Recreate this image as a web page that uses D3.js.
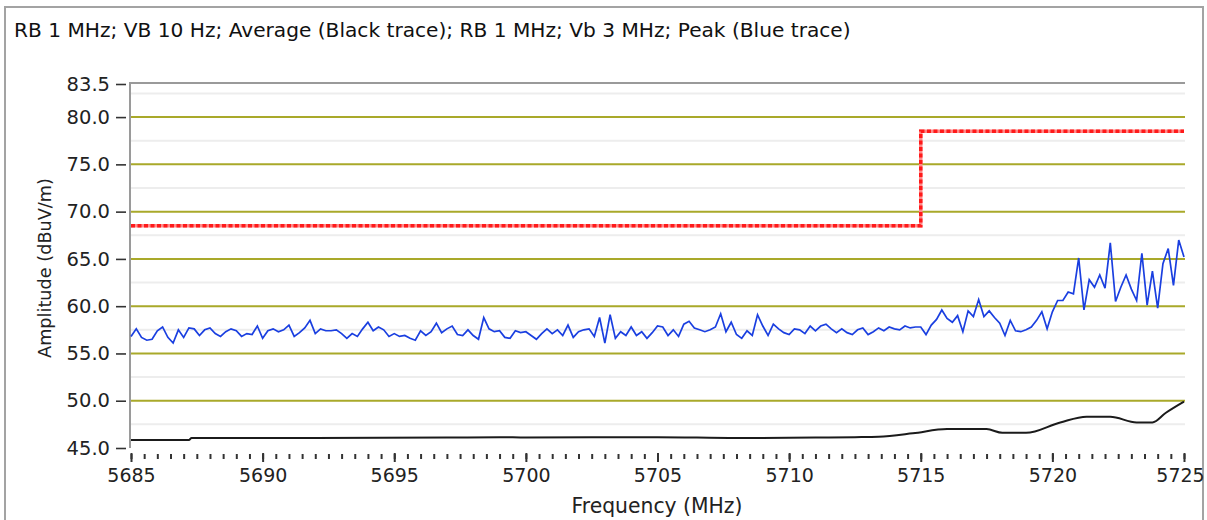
<!DOCTYPE html>
<html>
<head>
<meta charset="utf-8">
<script src="https://cdn.jsdelivr.net/npm/d3@7"></script>
<style>
  body { margin: 0; background: #fff; }
  svg { display: block; font-family: "DejaVu Sans", sans-serif; }
</style>
</head>
<body>
<svg id="chart" width="1207" height="520"></svg>
<script>
const titleText = "RB 1 MHz; VB 10 Hz; Average (Black trace); RB 1 MHz; Vb 3 MHz; Peak (Blue trace)";
const xTitle = "Frequency (MHz)";
const yTitle = "Amplitude (dBuV/m)";

const yTicks = [45, 50, 55, 60, 65, 70, 75, 80, 83.5];
const yMinor = [47.5, 52.5, 57.5, 62.5, 67.5, 72.5, 77.5, 82.5];
const xTicks = [5685, 5690, 5695, 5700, 5705, 5710, 5715, 5720, 5725];

// limit line (red dotted)
const limitFreq = [5685, 5715, 5715, 5725];
const limitVal = [68.5, 68.5, 78.5, 78.5];

// average trace (black)
const avgFreq = [5685, 5687.2, 5687.3, 5692, 5697, 5699, 5700, 5705, 5708, 5711, 5712.5, 5713.4,
                 5714.7, 5716, 5717.5, 5718.1, 5719, 5720.3, 5721.3, 5722.2, 5723.2, 5723.8, 5724.3, 5725];
const avgVal = [45.85, 45.85, 46.05, 46.05, 46.1, 46.15, 46.1, 46.15, 46.05, 46.1, 46.15, 46.2,
                46.55, 47.0, 47.0, 46.6, 46.6, 47.7, 48.3, 48.3, 47.7, 47.7, 48.7, 49.9];

// peak trace (blue), one value every 0.2 MHz from 5685 to 5725
const peakStart = 5685, peakStep = 0.2;
const peakVal = [
  56.8, 57.6, 56.7, 56.4, 56.5, 57.4, 57.8, 56.7, 56.1, 57.5, 56.7, 57.7, 57.6, 56.9, 57.5, 57.7, 57.1, 56.8, 57.3, 57.6, 57.4, 56.8, 57.1, 57.0, 57.9,
  56.6, 57.4, 57.6, 57.3, 57.5, 58.0, 56.8, 57.2, 57.7, 58.5, 57.1, 57.6, 57.4, 57.4, 57.5, 57.1, 56.6, 57.1, 56.8, 57.6, 58.3, 57.4, 57.8, 57.5, 56.8,
  57.1, 56.8, 56.9, 56.6, 56.4, 57.4, 56.9, 57.3, 58.2, 57.2, 57.6, 57.9, 57.0, 56.9, 57.5, 56.9, 56.5, 58.8, 57.6, 57.3, 57.4, 56.7, 56.6, 57.4, 57.2,
  57.3, 56.9, 56.5, 57.1, 57.6, 57.1, 57.5, 56.9, 58.0, 56.7, 57.3, 57.5, 57.6, 56.8, 58.8, 56.1, 59.1, 56.6, 57.3, 56.9, 57.8, 56.9, 57.3, 56.6, 57.2,
  57.9, 57.8, 56.9, 57.5, 56.8, 58.1, 58.4, 57.7, 57.5, 57.3, 57.5, 57.8, 59.2, 57.3, 58.3, 57.0, 56.6, 57.4, 56.9, 59.1, 57.9, 56.9, 58.1, 57.6, 57.2,
  57.0, 57.6, 57.5, 57.1, 57.9, 57.4, 57.9, 58.1, 57.6, 57.2, 57.6, 57.2, 57.0, 57.5, 57.7, 57.0, 57.3, 57.7, 57.4, 57.8, 57.6, 57.5, 57.9, 57.7, 57.8,
  57.8, 57.0, 58.0, 58.6, 59.6, 58.7, 58.3, 59.0, 57.3, 59.5, 58.9, 60.7, 58.9, 59.5, 58.8, 58.2, 56.9, 58.5, 57.4, 57.3, 57.5, 57.8, 58.5, 59.4, 57.6,
  59.4, 60.6, 60.6, 61.5, 61.3, 65.1, 59.6, 62.8, 62.0, 63.3, 61.9, 66.7, 60.5, 62.0, 63.3, 61.8, 60.6, 65.6, 60.1, 63.7, 59.8, 64.5, 66.1, 62.2, 67.0,
  65.2
];

const svg = d3.select("#chart");

const x = d3.scaleLinear().domain([5685, 5725]).range([131, 1184]);
const y = d3.scaleLinear().domain([45, 83.5]).range([448, 84]);

// shrink or grow a text to a given width
function fitText(sel, target) {
  const node = sel.node();
  const size = parseFloat(sel.attr("font-size"));
  const w = node.getComputedTextLength();
  sel.attr("font-size", (size * target / w).toFixed(2));
}

// outer panel frame
svg.append("path")
  .attr("d", "M5,520 V7 H1203 V520")
  .attr("fill", "none")
  .attr("stroke", "#a3a3a3")
  .attr("stroke-width", 2);

const title = svg.append("text")
  .attr("x", 14).attr("y", 37)
  .attr("font-size", 16)
  .attr("fill", "#111")
  .text(titleText);
fitText(title, 837);

// grid
svg.append("g").selectAll("line").data(yMinor).join("line")
  .attr("x1", 131).attr("x2", 1185)
  .attr("y1", d => y(d)).attr("y2", d => y(d))
  .attr("stroke", "#ededed").attr("stroke-width", 2);

svg.append("g").selectAll("line").data(yTicks.filter(d => d > 45 && d < 83.5)).join("line")
  .attr("x1", 131).attr("x2", 1185)
  .attr("y1", d => y(d)).attr("y2", d => y(d))
  .attr("stroke", "#a9a92a").attr("stroke-width", 2);

// plot border: top and left
svg.append("path")
  .attr("d", `M1185,${y(83.5) - 1} H130 V${y(45)}`)
  .attr("fill", "none")
  .attr("stroke", "#9a9a9a")
  .attr("stroke-width", 2);

// y axis
const yAxis = svg.append("g")
  .attr("transform", "translate(126,0)")
  .call(d3.axisLeft(y).tickValues(yTicks).tickSize(10).tickPadding(6).tickFormat(d3.format(".1f")));
yAxis.select(".domain").remove();
yAxis.selectAll(".tick line").attr("stroke", "#333").attr("stroke-width", 1.6);
yAxis.selectAll(".tick text")
  .attr("font-family", "DejaVu Sans").attr("font-size", 19.5).attr("fill", "#222");

// x axis, minor and major ticks
const xMinor = svg.append("g")
  .attr("transform", "translate(0,454)")
  .call(d3.axisBottom(x).tickValues(d3.range(5685, 5725.01, 0.5)).tickSize(5).tickFormat(""));
xMinor.select(".domain").remove();
xMinor.selectAll(".tick line").attr("stroke", "#333").attr("stroke-width", 2);

const xAxis = svg.append("g")
  .attr("transform", "translate(0,453)")
  .call(d3.axisBottom(x).tickValues(xTicks).tickSize(9).tickPadding(7).tickFormat(d3.format("d")));
xAxis.select(".domain").remove();
xAxis.selectAll(".tick line").attr("stroke", "#333").attr("stroke-width", 2);
xAxis.selectAll(".tick text")
  .attr("font-family", "DejaVu Sans").attr("font-size", 19).attr("fill", "#222");
// keep the last label inside the window
xAxis.selectAll(".tick text").filter(d => d === 5725).attr("dx", -4);

// axis titles
const xt = svg.append("text")
  .attr("x", 657).attr("y", 513)
  .attr("text-anchor", "middle")
  .attr("font-size", 16).attr("fill", "#222")
  .text(xTitle);
fitText(xt, 171);

const yt = svg.append("text")
  .attr("transform", "translate(51,268) rotate(-90)")
  .attr("text-anchor", "middle")
  .attr("font-size", 16).attr("fill", "#222")
  .text(yTitle);
fitText(yt, 180);

// traces
const avgData = avgFreq.map((f, i) => [f, avgVal[i]]);
svg.append("path")
  .datum(avgData)
  .attr("d", d3.line().x(d => x(d[0])).y(d => y(d[1])).curve(d3.curveMonotoneX))
  .attr("fill", "none")
  .attr("stroke", "#1b1b1b")
  .attr("stroke-width", 2);

const peakData = peakVal.map((v, i) => [peakStart + i * peakStep, v]);
svg.append("path")
  .datum(peakData)
  .attr("d", d3.line().x(d => x(d[0])).y(d => y(d[1])))
  .attr("fill", "none")
  .attr("stroke", "#1a3fe0")
  .attr("stroke-width", 1.7);

const limitData = limitFreq.map((f, i) => [f, limitVal[i]]);
const limitLine = d3.line().x(d => x(d[0])).y(d => y(d[1]));
svg.append("path")
  .datum(limitData)
  .attr("d", limitLine)
  .attr("fill", "none")
  .attr("stroke", "#ff8a8a")
  .attr("stroke-width", 3.5);
svg.append("path")
  .datum(limitData)
  .attr("d", limitLine)
  .attr("fill", "none")
  .attr("stroke", "#ff1a1a")
  .attr("stroke-width", 3.5)
  .attr("stroke-dasharray", "4,2.5");
</script>
</body>
</html>
